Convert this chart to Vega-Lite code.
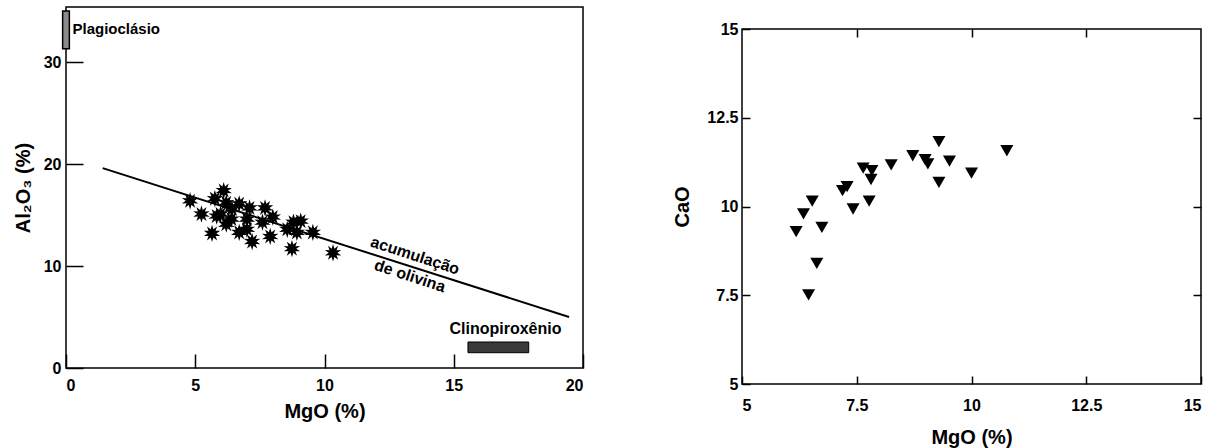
{
  "$schema": "https://vega.github.io/schema/vega-lite/v6.json",
  "padding": {"left": 12, "top": 6, "right": 5, "bottom": 0},
  "background": "white",
  "spacing": 87,
  "datasets": {
    "al": [
      {"MgO": 4.8, "Al2O3": 16.4},
      {"MgO": 5.24, "Al2O3": 15.1},
      {"MgO": 5.65, "Al2O3": 13.2},
      {"MgO": 5.76, "Al2O3": 16.6},
      {"MgO": 6.1, "Al2O3": 17.4},
      {"MgO": 5.83, "Al2O3": 14.9},
      {"MgO": 6.2, "Al2O3": 16.2},
      {"MgO": 6.2, "Al2O3": 14.1},
      {"MgO": 6.42, "Al2O3": 15.6},
      {"MgO": 6.7, "Al2O3": 16.1},
      {"MgO": 6.7, "Al2O3": 13.3},
      {"MgO": 7.0, "Al2O3": 14.6},
      {"MgO": 7.1, "Al2O3": 15.7},
      {"MgO": 7.2, "Al2O3": 12.4},
      {"MgO": 7.6, "Al2O3": 14.3},
      {"MgO": 7.7, "Al2O3": 15.7},
      {"MgO": 7.9, "Al2O3": 12.9},
      {"MgO": 8.0, "Al2O3": 14.8},
      {"MgO": 8.56, "Al2O3": 13.6},
      {"MgO": 8.8, "Al2O3": 14.3},
      {"MgO": 8.74, "Al2O3": 11.7},
      {"MgO": 9.08, "Al2O3": 14.4},
      {"MgO": 8.93, "Al2O3": 13.3},
      {"MgO": 9.55, "Al2O3": 13.3},
      {"MgO": 10.33, "Al2O3": 11.3},
      {"MgO": 5.98, "Al2O3": 15.1},
      {"MgO": 7.0, "Al2O3": 13.6},
      {"MgO": 6.4, "Al2O3": 14.6}
    ],
    "trend": [
      {"MgO": 1.42, "Al2O3": 19.6},
      {"MgO": 19.46, "Al2O3": 5.0}
    ],
    "trendLabel": [
      {"MgO": 13.5, "Al2O3": 11.0, "text": "acumulação"},
      {"MgO": 13.3, "Al2O3": 9.0, "text": "de olivina"}
    ],
    "plagLabel": [{"MgO": 0.25, "Al2O3": 33.2, "text": "Plagioclásio"}],
    "cpxLabel": [{"MgO": 17.0, "Al2O3": 3.8, "text": "Clinopiroxênio"}],
    "plagBox": [{"x": -0.13, "x2": 0.13, "y": 31.3, "y2": 35.0}],
    "cpxBox": [{"x": 15.55, "x2": 17.9, "y": 1.5, "y2": 2.55}],
    "ca": [
      {"MgO": 6.18, "CaO": 9.29},
      {"MgO": 6.34, "CaO": 9.79},
      {"MgO": 6.53, "CaO": 10.15},
      {"MgO": 6.74, "CaO": 9.41},
      {"MgO": 6.63, "CaO": 8.4},
      {"MgO": 6.45, "CaO": 7.51},
      {"MgO": 7.19, "CaO": 10.45},
      {"MgO": 7.29, "CaO": 10.56},
      {"MgO": 7.42, "CaO": 9.93},
      {"MgO": 7.64, "CaO": 11.08},
      {"MgO": 7.83, "CaO": 11.01},
      {"MgO": 7.81, "CaO": 10.76},
      {"MgO": 7.77, "CaO": 10.15},
      {"MgO": 8.25, "CaO": 11.17},
      {"MgO": 8.72, "CaO": 11.43},
      {"MgO": 8.99, "CaO": 11.32},
      {"MgO": 9.05, "CaO": 11.2},
      {"MgO": 9.29, "CaO": 11.83},
      {"MgO": 9.52, "CaO": 11.28},
      {"MgO": 9.29, "CaO": 10.68},
      {"MgO": 10.0, "CaO": 10.94},
      {"MgO": 10.77, "CaO": 11.57}
    ]
  },
  "hconcat": [
    {
      "width": 517,
      "height": 361,
      "layer": [
        {
          "data": {"name": "trend"},
          "mark": {"type": "line", "color": "black", "strokeWidth": 2},
          "encoding": {
            "x": {"field": "MgO", "type": "quantitative", "scale": {"domain": [0, 20], "nice": false},
              "axis": {"values": [0, 5, 10, 15, 20], "tickSize": -14, "labelPadding": 23, "title": "MgO (%)", "titlePadding": 8}},
            "y": {"field": "Al2O3", "type": "quantitative", "scale": {"domain": [0, 35.4], "nice": false},
              "axis": {"values": [0, 10, 20, 30], "tickSize": -17, "labelPadding": 22, "title": "Al₂O₃ (%)", "titlePadding": 10}}
          }
        },
        {
          "data": {"name": "al"},
          "mark": {"type": "point", "filled": true, "color": "black", "opacity": 1, "size": 300,
            "shape": "M0,-1L0.155,-0.476L0.588,-0.809L0.405,-0.294L0.951,-0.309L0.5,0L0.951,0.309L0.405,0.294L0.588,0.809L0.155,0.476L0,1L-0.155,0.476L-0.588,0.809L-0.405,0.294L-0.951,0.309L-0.5,0L-0.951,-0.309L-0.405,-0.294L-0.588,-0.809L-0.155,-0.476Z"},
          "encoding": {
            "x": {"field": "MgO", "type": "quantitative"},
            "y": {"field": "Al2O3", "type": "quantitative"}
          }
        },
        {
          "data": {"name": "plagBox"},
          "mark": {"type": "rect", "fill": "#8a8a8a", "stroke": "black", "strokeWidth": 1.5},
          "encoding": {
            "x": {"field": "x", "type": "quantitative"},
            "x2": {"field": "x2"},
            "y": {"field": "y", "type": "quantitative"},
            "y2": {"field": "y2"}
          }
        },
        {
          "data": {"name": "cpxBox"},
          "mark": {"type": "rect", "fill": "#3a3a3a", "stroke": "black", "strokeWidth": 1},
          "encoding": {
            "x": {"field": "x", "type": "quantitative"},
            "x2": {"field": "x2"},
            "y": {"field": "y", "type": "quantitative"},
            "y2": {"field": "y2"}
          }
        },
        {
          "data": {"name": "trendLabel"},
          "mark": {"type": "text", "angle": 18, "font": "Liberation Sans", "fontSize": 16, "fontWeight": "bold", "color": "black", "align": "center", "baseline": "middle"},
          "encoding": {
            "x": {"field": "MgO", "type": "quantitative"},
            "y": {"field": "Al2O3", "type": "quantitative"},
            "text": {"field": "text"}
          }
        },
        {
          "data": {"name": "plagLabel"},
          "mark": {"type": "text", "font": "Liberation Sans", "fontSize": 15, "fontWeight": "bold", "color": "black", "align": "left", "baseline": "middle"},
          "encoding": {
            "x": {"field": "MgO", "type": "quantitative"},
            "y": {"field": "Al2O3", "type": "quantitative"},
            "text": {"field": "text"}
          }
        },
        {
          "data": {"name": "cpxLabel"},
          "mark": {"type": "text", "font": "Liberation Sans", "fontSize": 16, "fontWeight": "bold", "color": "black", "align": "center", "baseline": "middle"},
          "encoding": {
            "x": {"field": "MgO", "type": "quantitative"},
            "y": {"field": "Al2O3", "type": "quantitative"},
            "text": {"field": "text"}
          }
        }
      ]
    },
    {
      "spacing": 8,
      "vconcat": [
        {
          "width": 459,
          "height": 4,
          "data": {"values": [{}]},
          "mark": {"type": "point", "opacity": 0},
          "view": {"stroke": null}
        },
        {
          "width": 459,
          "height": 355,
          "data": {"name": "ca"},
          "layer": [
            {
              "mark": {"type": "point", "shape": "triangle-down", "filled": true, "color": "black", "opacity": 1, "size": 170},
              "encoding": {
                "x": {"field": "MgO", "type": "quantitative", "scale": {"domain": [5, 15], "nice": false},
                  "axis": {"values": [5, 7.5, 10, 12.5, 15], "format": ".1~f", "tickSize": -8, "labelPadding": 21, "title": "MgO (%)", "titlePadding": 14}},
                "y": {"field": "CaO", "type": "quantitative", "scale": {"domain": [5, 15], "nice": false},
                  "axis": {"values": [5, 7.5, 10, 12.5, 15], "format": ".1~f", "tickSize": -8, "labelPadding": 12, "title": "CaO", "titlePadding": 14}}
              }
            },
            {
              "mark": {"type": "point", "opacity": 0},
              "encoding": {
                "x": {"field": "MgO", "type": "quantitative",
                  "axis": {"orient": "top", "values": [7.5, 10, 12.5], "tickSize": -8, "labels": false, "title": null}},
                "y": {"field": "CaO", "type": "quantitative",
                  "axis": {"orient": "right", "values": [7.5, 10, 12.5], "tickSize": -8, "labels": false, "title": null}}
              }
            }
          ],
          "resolve": {"axis": {"x": "independent", "y": "independent"}}
        }
      ]
    }
  ],
  "config": {
    "view": {"stroke": "black", "strokeWidth": 1.5},
    "axis": {
      "grid": false,
      "domain": false,
      "tickColor": "black",
      "tickWidth": 1.5,
      "labelFont": "Liberation Sans",
      "labelFontSize": 16,
      "labelFontWeight": "bold",
      "labelColor": "black",
      "titleFont": "Liberation Sans",
      "titleFontSize": 20,
      "titleFontWeight": "bold",
      "titleColor": "black"
    }
  }
}
